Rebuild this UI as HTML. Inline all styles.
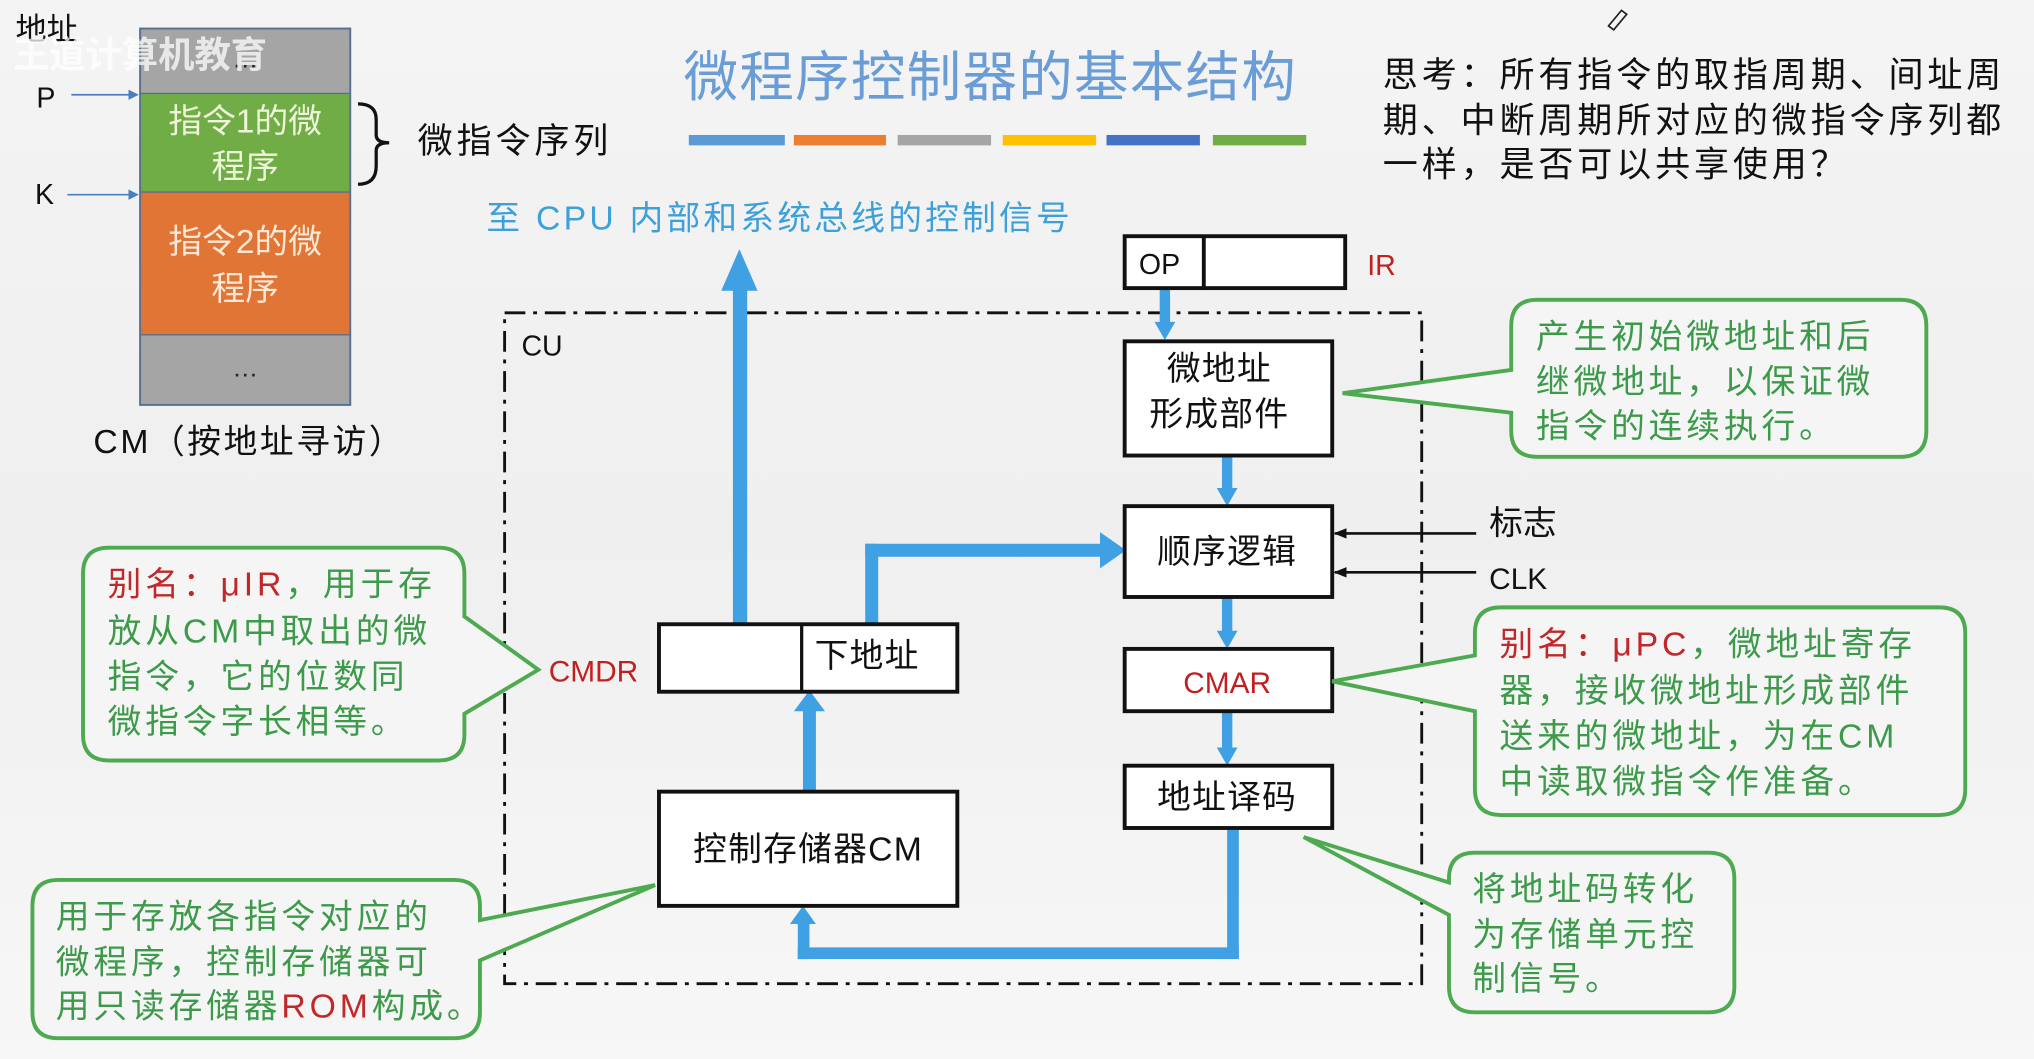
<!DOCTYPE html>
<html><head><meta charset="utf-8"><style>
html,body{margin:0;padding:0;width:2034px;height:1059px;overflow:hidden;background:#f3f3f3}
svg{display:block}
text{font-family:"Liberation Sans","Noto Sans CJK SC",sans-serif}
</style></head><body>
<svg width="2034" height="1059" viewBox="0 0 1568 816" preserveAspectRatio="none" xmlns="http://www.w3.org/2000/svg">
<defs>
<linearGradient id="bg" x1="0" y1="0" x2="0" y2="1"><stop offset="0" stop-color="#f4f4f4"/><stop offset="0.5" stop-color="#efefef"/><stop offset="1" stop-color="#f7f7f7"/></linearGradient>
<marker id="ah" markerWidth="10" markerHeight="8" refX="9" refY="4" orient="auto" markerUnits="userSpaceOnUse"><path d="M0,0 L10,4 L0,8 Z" fill="#111"/></marker>
<marker id="ahb" markerWidth="8" markerHeight="8" refX="7" refY="4" orient="auto" markerUnits="userSpaceOnUse"><path d="M0,0 L8,4 L0,8 Z" fill="#4a7fc0"/></marker>
</defs>
<rect width="1568" height="816" fill="url(#bg)"/>

<!-- CM memory -->
<rect x="108" y="22" width="162" height="50" fill="#a5a5a5"/>
<rect x="108" y="72" width="162" height="76" fill="#70ad47"/>
<rect x="108" y="148" width="162" height="110" fill="#e07535"/>
<rect x="108" y="258" width="162" height="54" fill="#a5a5a5"/>
<rect x="108" y="22" width="162" height="290" fill="none" stroke="#5a7090" stroke-width="1.5"/>
<line x1="108" y1="72" x2="270" y2="72" stroke="#5a7090"/><line x1="108" y1="148" x2="270" y2="148" stroke="#5a7090"/><line x1="108" y1="258" x2="270" y2="258" stroke="#5a7090"/>
<text x="189" y="52" font-size="20" text-anchor="middle" fill="#222">…</text>
<text x="189" y="102" font-size="26" text-anchor="middle" fill="#eef5d8">指令1的微</text>
<text x="189" y="137" font-size="26" text-anchor="middle" fill="#eef5d8">程序</text>
<text x="189" y="195" font-size="26" text-anchor="middle" fill="#fbe8d6">指令2的微</text>
<text x="189" y="231" font-size="26" text-anchor="middle" fill="#fbe8d6">程序</text>
<text x="189" y="290" font-size="20" text-anchor="middle" fill="#222">…</text>
<text x="12" y="31" font-size="24" fill="#111">地址</text>
<text x="10" y="52" font-size="28" fill="#ffffff" opacity="0.75" font-weight="bold">王道计算机教育</text>
<text x="28" y="83" font-size="22" fill="#111">P</text>
<line x1="55" y1="73" x2="106" y2="73" stroke="#4a7fc0" stroke-width="1.3" marker-end="url(#ahb)"/>
<text x="27" y="157" font-size="22" fill="#111">K</text>
<line x1="52" y1="150" x2="106" y2="150" stroke="#4a7fc0" stroke-width="1.3" marker-end="url(#ahb)"/>
<path d="M276,80 Q290,80 290,92 L290,104 Q290,110 300,110 Q290,110 290,116 L290,128 Q290,142 276,142" fill="none" stroke="#111" stroke-width="2.5"/>
<text x="322" y="118" font-size="27" fill="#111" letter-spacing="3">微指令序列</text>
<text x="72" y="349" font-size="26" fill="#111" letter-spacing="2">CM（按地址寻访）</text>

<!-- title -->
<text x="527" y="74" font-size="42" fill="#6a9cd6" letter-spacing="1">微程序控制器的基本结构</text>
<rect x="531" y="104" width="74" height="8" fill="#5b9bd5"/>
<rect x="612" y="104" width="71" height="8" fill="#ed7d31"/>
<rect x="692" y="104" width="72" height="8" fill="#a5a5a5"/>
<rect x="773" y="104" width="72" height="8" fill="#ffc000"/>
<rect x="853" y="104" width="72" height="8" fill="#4472c4"/>
<rect x="935" y="104" width="72" height="8" fill="#70ad47"/>

<g font-size="27" fill="#111" letter-spacing="3">
<text x="1066" y="67">思考：所有指令的取指周期、间址周</text>
<text x="1066" y="102">期、中断周期所对应的微指令序列都</text>
<text x="1066" y="136">一样，是否可以共享使用？</text>
</g>
<path d="M1240,20 L1250,8 L1254,11 L1244,23 Z" fill="none" stroke="#222" stroke-width="1.3"/>

<text x="375" y="177" font-size="26" fill="#3ea0da" letter-spacing="2.5">至 CPU 内部和系统总线的控制信号</text>

<!-- CU dashed box -->
<rect x="389" y="241" width="707" height="517" fill="none" stroke="#111" stroke-width="2.2" stroke-dasharray="16,6,3,6"/>
<text x="402" y="274" font-size="22" fill="#111">CU</text>

<!-- blue arrows -->
<g fill="#3fa0e4" stroke="none">
<rect x="565" y="222" width="11" height="260"/>
<polygon points="556,224 570,192 584,224"/>
<rect x="667" y="419" width="10" height="62"/>
<rect x="667" y="419" width="185" height="10"/>
<polygon points="848,410 868,424 848,438"/>
<rect x="894" y="222" width="8" height="28"/>
<polygon points="890,248 898,262 906,248"/>
<rect x="942" y="351" width="8" height="27"/>
<polygon points="938,376 946,390 954,376"/>
<rect x="942" y="460" width="8" height="28"/>
<polygon points="938,486 946,500 954,486"/>
<rect x="942" y="548" width="8" height="30"/>
<polygon points="938,576 946,590 954,576"/>
<rect x="946" y="638" width="9" height="100"/>
<rect x="615" y="730" width="340" height="9"/>
<rect x="615" y="710" width="9" height="29"/>
<polygon points="609,712 619,698 629,712"/>
<rect x="619" y="545" width="10" height="65"/>
<polygon points="612,548 624,532 636,548"/>
</g>

<!-- boxes -->
<g fill="#fff" stroke="#111" stroke-width="3">
<rect x="867" y="182" width="170" height="40"/>
<rect x="867" y="263" width="160" height="88"/>
<rect x="867" y="390" width="160" height="70"/>
<rect x="867" y="500" width="160" height="48"/>
<rect x="867" y="590" width="160" height="48"/>
<rect x="508" y="481" width="230" height="52"/>
<rect x="508" y="610" width="230" height="88"/>
</g>
<line x1="928" y1="182" x2="928" y2="222" stroke="#111" stroke-width="3"/>
<line x1="618" y1="481" x2="618" y2="533" stroke="#111" stroke-width="2.5"/>
<text x="878" y="211" font-size="22" fill="#111">OP</text>
<text x="1054" y="212" font-size="22" fill="#c02020">IR</text>
<g font-size="26" fill="#111" text-anchor="middle" letter-spacing="1">
<text x="940" y="293">微地址</text>
<text x="940" y="328">形成部件</text>
<text x="946" y="434">顺序逻辑</text>
<text x="946" y="623">地址译码</text>
<text x="623" y="663">控制存储器CM</text>
</g>
<text x="946" y="534" font-size="23" text-anchor="middle" fill="#c02020">CMAR</text>
<text x="628" y="514" font-size="26" fill="#111" letter-spacing="1">下地址</text>
<text x="423" y="525" font-size="23" fill="#c02020">CMDR</text>

<line x1="1138" y1="411" x2="1029" y2="411" stroke="#111" stroke-width="2" marker-end="url(#ah)"/>
<line x1="1138" y1="441" x2="1029" y2="441" stroke="#111" stroke-width="2" marker-end="url(#ah)"/>
<text x="1148" y="412" font-size="26" fill="#111">标志</text>
<text x="1148" y="454" font-size="23" fill="#111">CLK</text>

<!-- callouts -->
<g fill="#f5f5f5" stroke="#4eaa50" stroke-width="3">
<path d="M1185,231 H1465 Q1485,231 1485,251 V332 Q1485,352 1465,352 H1185 Q1165,352 1165,332 V318 L1035,303 L1165,285 V251 Q1165,231 1185,231 Z"/>
<path d="M84,422 H338 Q358,422 358,442 V475 L415,516 L358,550 V566 Q358,586 338,586 H84 Q64,586 64,566 V442 Q64,422 84,422 Z"/>
<path d="M1157,468 H1495 Q1515,468 1515,488 V608 Q1515,628 1495,628 H1157 Q1137,628 1137,608 V548 L1027,525 L1137,505 V488 Q1137,468 1157,468 Z"/>
<path d="M45,678 H350 Q370,678 370,698 V709 L505,682 L370,740 V780 Q370,800 350,800 H45 Q25,800 25,780 V698 Q25,678 45,678 Z"/>
<path d="M1137,657 H1317 Q1337,657 1337,677 V760 Q1337,780 1317,780 H1137 Q1117,780 1117,760 V705 L1005,645 L1117,680 V677 Q1117,657 1137,657 Z"/>
</g>
<g font-size="26" fill="#3c9a4a" letter-spacing="3">
<text x="1184" y="268">产生初始微地址和后</text>
<text x="1184" y="303">继微地址，以保证微</text>
<text x="1184" y="337">指令的连续执行。</text>
<text x="83" y="459"><tspan fill="#c0282a">别名：μIR</tspan>，用于存</text>
<text x="83" y="495">放从CM中取出的微</text>
<text x="83" y="530">指令，它的位数同</text>
<text x="83" y="565">微指令字长相等。</text>
<text x="1156" y="505"><tspan fill="#c0282a">别名：μPC</tspan>，微地址寄存</text>
<text x="1156" y="541">器，接收微地址形成部件</text>
<text x="1156" y="576">送来的微地址，为在CM</text>
<text x="1156" y="611">中读取微指令作准备。</text>
<text x="43" y="715">用于存放各指令对应的</text>
<text x="43" y="750">微程序，控制存储器可</text>
<text x="43" y="784">用只读存储器<tspan fill="#c0282a">ROM</tspan>构成。</text>
<text x="1135" y="694">将地址码转化</text>
<text x="1135" y="729">为存储单元控</text>
<text x="1135" y="763">制信号。</text>
</g>
</svg>
</body></html>
